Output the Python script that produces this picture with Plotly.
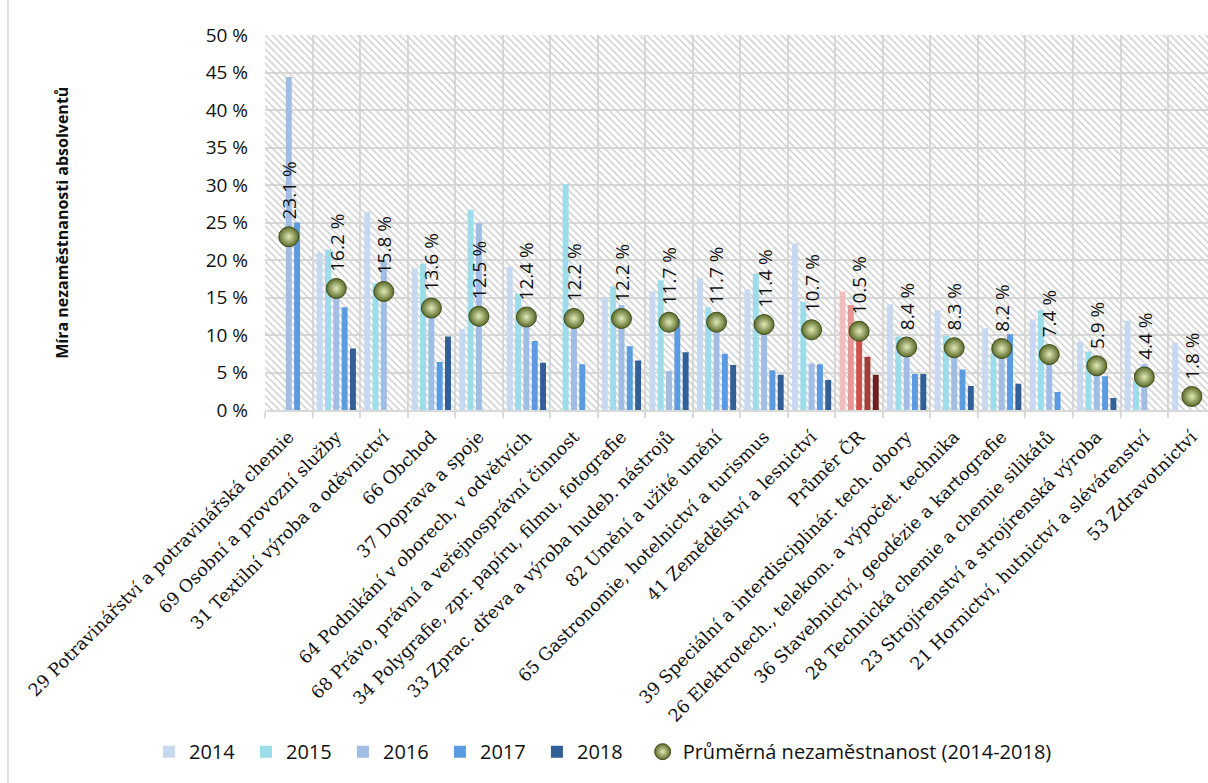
import plotly.graph_objects as go

# Obory vzdělání (skupiny oborů) a průměr ČR
categories = [
    "29 Potravinářství a potravinářská chemie",
    "69 Osobní a provozní služby",
    "31 Textilní výroba a oděvnictví",
    "66 Obchod",
    "37 Doprava a spoje",
    "64 Podnikání v oborech, v odvětvích",
    "68 Právo, právní a veřejnosprávní činnost",
    "34 Polygrafie, zpr. papíru, filmu, fotografie",
    "33 Zprac. dřeva a výroba hudeb. nástrojů",
    "82 Umění a užité umění",
    "65 Gastronomie, hotelnictví a turismus",
    "41 Zemědělství a lesnictví",
    "Průměr ČR",
    "39 Speciální a interdisciplinár. tech. obory",
    "26 Elektrotech., telekom. a výpočet. technika",
    "36 Stavebnictví, geodézie a kartografie",
    "28 Technická chemie a chemie silikátů",
    "23 Strojírenství a strojírenská výroba",
    "21 Hornictví, hutnictví a slévárenství",
    "53 Zdravotnictví",
]

years = ["2014", "2015", "2016", "2017", "2018"]

rate_2014 = [None, 21.0, 26.4, 18.9, 10.8, 19.1, None, 15.0, 15.8, 17.6,
             16.1, 22.2, 15.8, 14.1, 13.3, 10.9, 12.1, 9.1, 11.9, 9.0]
rate_2015 = [None, 21.4, 16.9, 19.5, 26.7, 15.5, 30.1, 16.5, 17.3, 13.7,
             18.2, 14.4, 14.0, 9.8, 9.9, 7.6, 13.3, 7.8, 3.8, None]
rate_2016 = [44.4, 16.7, 19.8, 13.4, 24.9, 11.9, 12.6, 14.0, 5.2, 12.0,
             12.5, 6.2, 10.9, 8.5, 9.2, 8.9, 8.5, 6.5, 6.1, None]
rate_2017 = [25.0, 13.7, None, 6.4, None, 9.2, 6.1, 8.5, 12.1, 7.5,
             5.3, 6.1, 7.1, 4.8, 5.4, 10.1, 2.4, 4.5, None, None]
rate_2018 = [None, 8.2, None, 9.8, None, 6.3, None, 6.6, 7.7, 6.0,
             4.7, 4.0, 4.7, 4.8, 3.2, 3.5, None, 1.6, None, None]

average_rate = [23.1, 16.2, 15.8, 13.6, 12.5, 12.4, 12.2, 12.2, 11.7, 11.7,
                11.4, 10.7, 10.5, 8.4, 8.3, 8.2, 7.4, 5.9, 4.4, 1.8]

average_name = "Průměrná nezaměstnanost (2014-2018)"
y_tick_values = [0, 5, 10, 15, 20, 25, 30, 35, 40, 45, 50]

series = [rate_2014, rate_2015, rate_2016, rate_2017, rate_2018]

blue_shades = ["#c6d9f1", "#9ddcea", "#9fbde5", "#5b9be1", "#325f96"]
red_shades = ["#f2bdbd", "#e49795", "#d0504d", "#a33c3a", "#6c2120"]
highlight = "Průměr ČR"

TEXT_FONT = "Open Sans"
BAR_W = 0.125
BAR_PITCH = 0.175

fig = go.Figure()

# hatched plot background, one transparent cell per category
y_top = y_tick_values[-1]
fig.add_trace(go.Bar(
    x=categories,
    y=[y_top] * len(categories),
    width=1.0,
    offset=-0.5,
    marker=dict(
        color="rgba(0,0,0,0)",
        line=dict(width=0),
        pattern=dict(shape="\\", fgcolor="#cfcfcf", bgcolor="rgba(0,0,0,0)",
                     size=5, solidity=0.3, fillmode="replace"),
    ),
    showlegend=False,
    hoverinfo="skip",
))

for i, (year, values) in enumerate(zip(years, series)):
    colors = [red_shades[i] if c == highlight else blue_shades[i] for c in categories]
    fig.add_trace(go.Bar(
        x=categories,
        y=values,
        name=year,
        width=BAR_W,
        offset=(i - 2) * BAR_PITCH - BAR_W / 2,
        marker=dict(color=colors, line=dict(width=0)),
        legend="legend",
    ))

fig.add_trace(go.Scatter(
    x=categories,
    y=average_rate,
    name=average_name,
    mode="markers",
    marker=dict(
        size=20,
        color="#5a6a28",
        gradient=dict(type="radial", color="#e2eab8"),
        line=dict(color="#424d1c", width=1),
    ),
    legend="legend2",
))

for c, v in zip(categories, average_rate):
    fig.add_annotation(
        x=c, y=v,
        text=f"{v:.1f} %",
        textangle=-90,
        showarrow=False,
        xanchor="center",
        yanchor="bottom",
        yshift=15,
        font=dict(family=TEXT_FONT, size=19, color="#111111"),
    )

fig.add_annotation(
    xref="paper", yref="paper",
    x=-0.216, y=0.5,
    text="<b>Míra nezaměstnanosti absolventů</b>",
    textangle=-90,
    showarrow=False,
    xanchor="center", yanchor="middle",
    font=dict(family=TEXT_FONT, size=16, color="#111111"),
)

# outer chart frame (left edge)
fig.add_shape(type="line", xref="paper", yref="paper",
              x0=-0.2725, x1=-0.2725, y0=-1.1, y1=1.1,
              line=dict(color="#d9d9d9", width=1.5))

legend_font = dict(family=TEXT_FONT, size=20, color="#111111")

fig.update_layout(
    width=1208,
    height=783,
    margin=dict(l=265, r=0, t=35, b=373, autoexpand=False),
    paper_bgcolor="white",
    plot_bgcolor="white",
    barmode="overlay",
    font=dict(family=TEXT_FONT, color="#111111"),
    legend=dict(
        orientation="h",
        xref="container", yref="container",
        x=0.1233, y=0.04,
        xanchor="left", yanchor="middle",
        font=legend_font,
        itemwidth=30,
        entrywidth=52,
        entrywidthmode="pixels",
        traceorder="normal",
    ),
    legend2=dict(
        orientation="h",
        xref="container", yref="container",
        x=0.532, y=0.04,
        xanchor="left", yanchor="middle",
        font=legend_font,
        itemwidth=30,
    ),
    showlegend=True,
)

fig.update_xaxes(
    type="category",
    categoryorder="array",
    categoryarray=categories,
    range=[-0.5, 19.34],
    automargin=False,
    tickson="boundaries",
    showgrid=True,
    gridcolor="#d9d9d9",
    gridwidth=1.5,
    ticks="outside",
    ticklen=6,
    tickcolor="#d9d9d9",
    tickwidth=1.5,
    showline=True,
    linecolor="#d9d9d9",
    linewidth=1.5,
    tickangle=-45,
    ticklabelstandoff=8,
    tickfont=dict(family="DejaVu Serif", size=17.5, color="#111111"),
    fixedrange=True,
)

fig.update_yaxes(
    range=[0, y_top],
    tickvals=y_tick_values,
    ticktext=[f"{t} %" for t in y_tick_values],
    automargin=False,
    showgrid=True,
    gridcolor="#d9d9d9",
    gridwidth=1.5,
    zeroline=False,
    showline=False,
    ticks="",
    ticklabelstandoff=16,
    tickfont=dict(family=TEXT_FONT, size=19, color="#111111"),
    fixedrange=True,
)

fig.write_html("out.html")
